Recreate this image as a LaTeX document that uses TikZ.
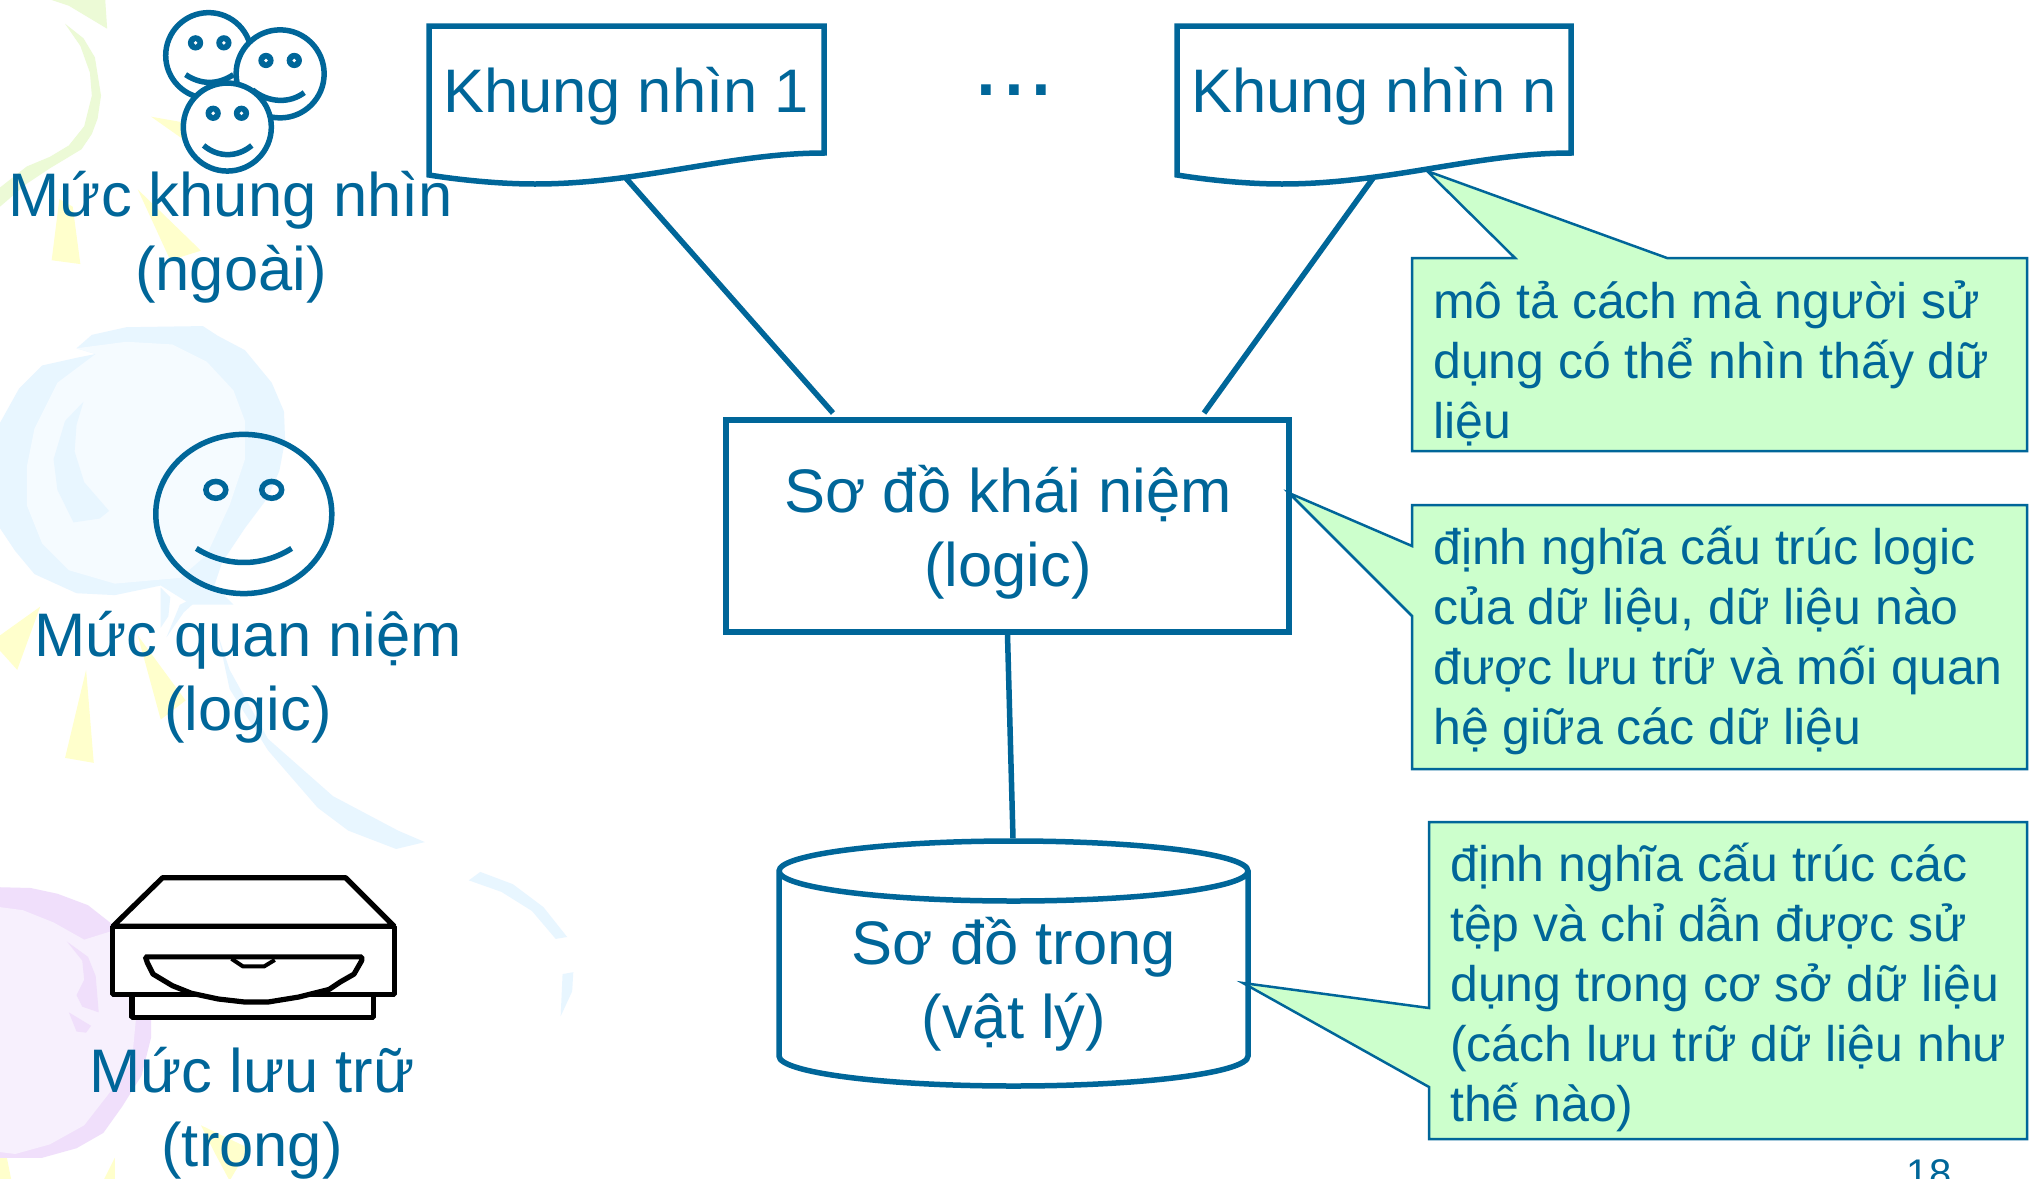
\documentclass[tikz,border=0pt]{standalone}
\usepackage{fontspec}
\setmainfont{Liberation Sans}
\definecolor{mainblue}{HTML}{006699}
\definecolor{notegreen}{HTML}{CCFFCC}
\definecolor{bgyellow}{HTML}{FFFFCC}
\definecolor{bggreen}{HTML}{ECFAD6}
\definecolor{bgblue}{HTML}{E8F6FF}
\definecolor{bgbluein}{HTML}{F5FBFF}
\definecolor{bgpurple}{HTML}{F0DFFB}
\definecolor{bgpurplein}{HTML}{F7F0FD}
\tikzset{
  big/.style={font=\fontsize{61.5}{74}\selectfont,text=mainblue,align=center,inner sep=0pt},
  note/.style={font=\fontsize{50}{60}\selectfont,text=mainblue,align=left,inner sep=0pt,anchor=north west},
  heavy/.style={draw=mainblue,line width=5.5pt},
  notebox/.style={draw=mainblue,fill=notegreen,line width=2.5pt,line join=miter},
  faceline/.style={draw=mainblue,line width=5.5pt},
  diskline/.style={draw=black,line width=5.2pt,line join=bevel},
}
\begin{document}
\begin{tikzpicture}[x=1pt,y=-1pt]
\useasboundingbox (0,0) rectangle (2034,1178);
\clip (0,0) rectangle (2034,1178);
\fill[white] (0,0) rectangle (2034,1178);
% background decoration
\begin{scope}[x=0.3827pt,y=-0.3827pt]
\fill[bggreen] (135,0)--(180,15)--(280,75)--(275,0)--cycle;
\fill[bggreen] (170,62)--(218,100)--(248,150)--(264,250)--(255,310)--(240,350)--(213,390)--(130,440)--(70,480)--(0,540)--(0,490)--(70,435)--(130,410)--(180,380)--(220,330)--(240,250)--(235,190)--(210,120)--cycle;
\fill[bgyellow] (395,305)--(480,320)--(480,365)--cycle;
\fill[bgyellow] (155,520)--(135,680)--(210,690)--(190,540)--cycle;
\fill[bgyellow] (360,495)--(525,655)--(445,680)--cycle;
\fill[bgblue] (200,910)--(240,875)--(330,855)--(530,852)--(570,878)--(640,915)--(710,1000)--(742,1075)--(745,1150)--(730,1230)--(700,1300)--(640,1380)--(580,1470)--(560,1530)--(610,1580)--(500,1580)--(420,1530)--(300,1555)--(200,1550)--(90,1500)--(40,1440)--(0,1380)--(0,1105)--(50,1015)--(110,955)--(200,935)--(250,925)--cycle;
\fill[bgbluein] (200,910)--(330,893)--(450,900)--(540,945)--(610,1020)--(640,1100)--(640,1200)--(600,1320)--(540,1450)--(470,1510)--(300,1525)--(180,1490)--(110,1420)--(70,1320)--(70,1220)--(90,1120)--(150,1000)--(250,925)--cycle;
\fill[bgblue] (218,1050)--(170,1100)--(140,1200)--(150,1280)--(192,1365)--(260,1355)--(285,1335)--(220,1260)--(195,1180)--(200,1110)--cycle;
\end{scope}
\begin{scope}[shift={(0,578)},x=0.3827pt,y=-0.3827pt]
\fill[bgblue] (420,25)--(445,50)--(440,100)--(420,130)--cycle;
\fill[bgblue] (435,155)--(470,70)--(540,35)--(480,90)--cycle;
\fill[bgblue] (570,150)--(600,240)--(700,420)--(870,570)--(1040,660)--(1110,690)--(1035,708)--(910,660)--(830,600)--(700,450)--(600,290)--cycle;
\fill[bgyellow] (0,150)--(105,75)--(45,240)--(0,190)--cycle;
\fill[bgyellow] (225,240)--(245,483)--(170,470)--cycle;
\fill[bgyellow] (360,150)--(485,320)--(420,370)--cycle;
\fill[bgyellow] (525,1430)--(650,1490)--(600,1575)--(560,1500)--cycle;
\fill[bgyellow] (300,1515)--(300,1575)--(270,1575)--cycle;
\fill[bgyellow] (15,1500)--(30,1575)--(0,1575)--(0,1510)--cycle;
\fill[bgblue] (1225,790)--(1255,768)--(1340,800)--(1420,860)--(1482,938)--(1452,943)--(1390,870)--(1310,820)--cycle;
\fill[bgblue] (1470,1035)--(1498,1030)--(1495,1080)--(1465,1145)--cycle;
\fill[bgpurple] (0,808)--(80,810)--(150,825)--(230,855)--(300,910)--(350,980)--(385,1060)--(395,1130)--(395,1200)--(370,1300)--(320,1380)--(270,1450)--(200,1490)--(110,1515)--(0,1515)--cycle;
\fill[bgpurplein] (0,860)--(60,868)--(140,900)--(220,945)--(300,920)--(340,1020)--(360,1100)--(345,1260)--(290,1340)--(220,1430)--(130,1480)--(40,1505)--(0,1500)--cycle;
\fill[bgpurple] (175,950)--(230,990)--(250,1040)--(258,1135)--(215,1120)--(200,1090)--(220,1050)--(215,1000)--cycle;
\fill[bgpurple] (180,1135)--(238,1170)--(225,1188)--(200,1185)--cycle;
\end{scope}
% three faces
\begin{scope}[x=0.3827pt,y=-0.3827pt]
\draw[faceline] (545,145) circle[radius=112];
\fill[mainblue] (511,112) circle[radius=20] (585,112) circle[radius=20];
\fill[white] (511,112) circle[radius=5] (585,112) circle[radius=5];
\draw[faceline] (485,195) .. controls (525,222) and (570,222) .. (610,195);
\draw[faceline,fill=white] (732,193) circle[radius=115];
\fill[mainblue] (695,158) circle[radius=20] (769,158) circle[radius=20];
\fill[white] (695,158) circle[radius=5] (769,158) circle[radius=5];
\draw[faceline] (660,235) .. controls (700,268) and (755,272) .. (795,242);
\draw[faceline,fill=white] (594,332) circle[radius=115];
\fill[mainblue] (557,296) circle[radius=20] (631,296) circle[radius=20];
\fill[white] (557,296) circle[radius=5] (631,296) circle[radius=5];
\draw[faceline] (532,380) .. controls (570,412) and (620,412) .. (658,380);
% single face
\draw[faceline] (637,1343) ellipse[x radius=230,y radius=208];
\draw[faceline] (564,1280) ellipse[x radius=26,y radius=22] (710,1280) ellipse[x radius=26,y radius=22];
\draw[faceline] (513,1433) .. controls (590,1482) and (685,1482) .. (762,1433);
\end{scope}
% disk drive
\begin{scope}[shift={(0,578)},x=0.3827pt,y=-0.3827pt]
\draw[diskline,fill=white] (345,1088) rectangle (975,1148);
\draw[diskline,fill=white] (295,910)--(425,783)--(903,783)--(1030,910)--cycle;
\draw[diskline,fill=white] (295,910) rectangle (1030,1088);
\draw[diskline,fill=white] (380,990)--(945,990)--(945,1000)--(925,1035)--(890,1055)--(860,1075)--(780,1095)--(700,1108)--(640,1108)--(570,1100)--(500,1085)--(450,1065)--(400,1035)--(385,1005)--cycle;
\draw[diskline,line width=4pt] (605,995)--(635,1015)--(690,1015)--(718,998);
\end{scope}
% level labels
\node[big] (lv1) at (231,237) {Mức khung nhìn\\(ngoài)};
\node[big] (lv2) at (248,677) {Mức quan niệm\\(logic)};
\node[big] (lv3) at (252,1113) {Mức lưu trữ\\(trong)};
% views
\node[minimum width=396pt,minimum height=152pt,inner sep=0pt] (k1) at (626,102) {};
\node[minimum width=396pt,minimum height=152pt,inner sep=0pt] (kn) at (1373,102) {};
\draw[heavy,line join=miter] (429,26)--(824,26)--(824,153) .. controls (730,153) and (640,184) .. (535,184) .. controls (500,184) and (460,180) .. (429,175)--cycle;
\draw[heavy,line join=miter] (1177,26)--(1571,26)--(1571,153) .. controls (1477,153) and (1387,184) .. (1282,184) .. controls (1247,184) and (1208,180) .. (1177,175)--cycle;
\node[big] (k1t) at (626,96) {Khung nhìn 1};
\node[big] (knt) at (1374,96) {Khung nhìn n};
\node[big,font=\fontsize{100}{100}\selectfont] (dots) at (1014,90) {...};
% schemas
\node[draw=mainblue,line width=5.5pt,minimum width=563pt,minimum height=212pt,inner sep=0pt] (cs) at (1007.5,526) {};
\node[big] (cst) at (1008,532) {Sơ đồ khái niệm\\(logic)};
\coordinate (cs1) at (833,413);
\coordinate (cs2) at (1204,413);
\node[minimum width=470pt,minimum height=247pt,inner sep=0pt] (ins) at (1013,962) {};
\draw[heavy] (779,871) arc[start angle=180,end angle=0,x radius=234.5,y radius=30] arc[start angle=0,end angle=-180,x radius=234.5,y radius=30]
  -- (779,1056) arc[start angle=180,end angle=0,x radius=234.5,y radius=30] -- (1248,871);
\node[big] (inst) at (1014,984) {Sơ đồ trong\\(vật lý)};
\draw[heavy] (k1.south)--(cs1);
\draw[heavy] (kn.south)--(cs2);
\draw[heavy] (cs.south)--(ins.north);
% notes
\draw[notebox] (1427,171)--(1667,258)--(2027,258)--(2027,451)--(1412,451)--(1412,258)--(1515,258)--cycle;
\draw[notebox] (1289,493)--(1412,546)--(1412,505)--(2027,505)--(2027,769)--(1412,769)--(1412,616)--cycle;
\draw[notebox] (1243,983)--(1429,1008)--(1429,822)--(2027,822)--(2027,1139)--(1429,1139)--(1429,1087)--cycle;
\node[note] (n1) at (1433,280.5) {mô tả cách mà người sử\\dụng có thể nhìn thấy dữ\\liệu};
\node[note] (n2) at (1433,526) {định nghĩa cấu trúc logic\\của dữ liệu, dữ liệu nào\\được lưu trữ và mối quan\\hệ giữa các dữ liệu};
\node[note] (n3) at (1450,843) {định nghĩa cấu trúc các\\tệp và chỉ dẫn được sử\\dụng trong cơ sở dữ liệu\\(cách lưu trữ dữ liệu như\\thế nào)};
\node[font=\fontsize{40}{40}\selectfont,text=mainblue,inner sep=0pt,anchor=base] (pg) at (1929,1187) {18};
\end{tikzpicture}
\end{document}
